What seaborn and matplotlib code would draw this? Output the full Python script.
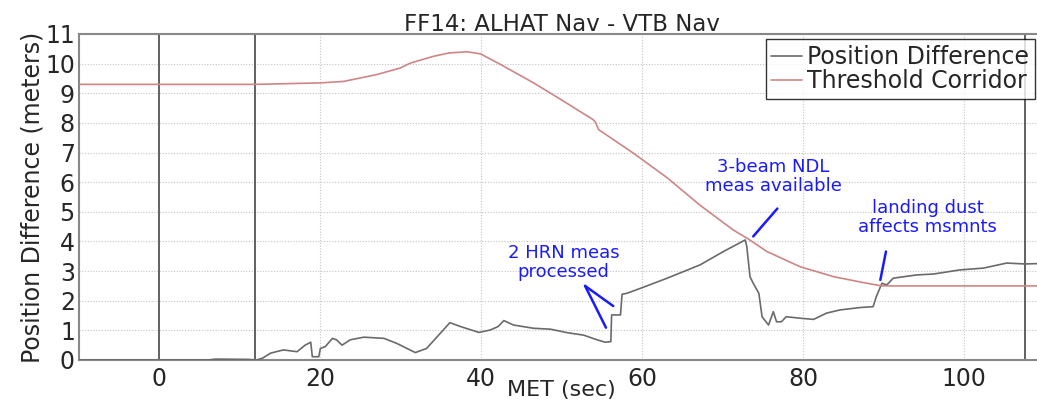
import numpy as np
import pandas as pd
import matplotlib
matplotlib.use("Agg")
import matplotlib.pyplot as plt
import seaborn as sns

# Position difference (MET sec, meters)
pos_t = [-10, 6, 7, 11, 12.1, 12.8, 13.8, 15.4, 17.1, 18.1, 18.8, 19.0, 19.8, 20.0, 20.6,
         21.5, 22.0, 22.7, 23.7, 25.4, 27.9, 29.5, 31.8, 33.2, 34.9, 36.1, 37.4, 39.7,
         41.1, 42.1, 42.8, 44.0, 46.5, 48.6, 50.7, 52.7, 54.4, 55.4, 56.1, 56.2, 57.3,
         57.5, 58.1, 59.8, 63.1, 67.2, 70.1, 72.8, 73.0, 73.4, 73.8, 74.5, 74.9, 75.7,
         76.3, 76.7, 77.3, 77.9, 79.6, 81.3, 82.9, 84.6, 87.1, 88.7, 89.1, 89.8, 90.4,
         91.2, 94.1, 96.2, 99.5, 102.4, 105.3, 107.6, 110]
pos_v = [0.0, 0.0, 0.03, 0.02, 0.0, 0.06, 0.23, 0.34, 0.28, 0.5, 0.6, 0.11, 0.11, 0.39, 0.45,
         0.73, 0.68, 0.5, 0.68, 0.77, 0.73, 0.56, 0.25, 0.39, 0.9, 1.26, 1.13, 0.93,
         1.01, 1.13, 1.33, 1.18, 1.07, 1.04, 0.92, 0.84, 0.68, 0.6, 0.62, 1.52, 1.52,
         2.22, 2.25, 2.42, 2.76, 3.21, 3.66, 4.05, 3.83, 2.81, 2.59, 2.25, 1.46, 1.18,
         1.63, 1.29, 1.29, 1.46, 1.41, 1.37, 1.58, 1.69, 1.77, 1.8, 2.14, 2.59, 2.53,
         2.76, 2.87, 2.9, 3.04, 3.1, 3.27, 3.24, 3.26]

# Threshold corridor
thr_t = [-10, 12, 20, 22.9, 27, 29.9, 31.2, 34.1, 36, 38.2, 39.9, 42.4, 46.5, 50.6,
         53.9, 54.2, 54.6, 58.9, 63.1, 67.2, 71.3, 73.2, 75.5, 79.6, 83.8, 87.9, 89.8, 110]
thr_v = [9.3, 9.3, 9.35, 9.4, 9.63, 9.85, 10.02, 10.25, 10.36, 10.4, 10.33, 9.97, 9.35, 8.67,
         8.11, 8.02, 7.77, 6.98, 6.15, 5.22, 4.39, 4.08, 3.66, 3.15, 2.81, 2.59, 2.5, 2.5]

event_lines = [0, 11.9, 107.6]
x_ticks = [0, 20, 40, 60, 80, 100]
y_ticks = list(range(0, 12))

notes = [
    ("2 HRN meas\nprocessed", 50.2, 3.3, [((52.9, 2.5), (56.4, 1.82)), ((52.9, 2.5), (55.5, 1.09))]),
    ("3-beam NDL\nmeas available", 76.3, 6.2, [((76.8, 5.11), (73.8, 4.17))]),
    ("landing dust\naffects msmnts", 95.5, 4.8, [((90.3, 3.66), (89.6, 2.7))]),
]

sns.set_style("white")
plt.rcParams['font.family'] = ['DejaVu Sans']

fig = plt.figure(figsize=(10.37, 4.07), dpi=100)
ax = fig.add_axes([0.0762, 0.1155, 0.931, 0.801])

df_pos = pd.DataFrame({"t": pos_t, "v": pos_v, "s": "Position Difference"})
df_thr = pd.DataFrame({"t": thr_t, "v": thr_v, "s": "Threshold Corridor"})
df = pd.concat([df_pos, df_thr], ignore_index=True)

sns.lineplot(data=df, x="t", y="v", hue="s", estimator=None, sort=False,
             palette={"Position Difference": "#6a6a6a", "Threshold Corridor": "#cf8585"},
             linewidth=1.2, ax=ax, zorder=3)

for xv in event_lines:
    ax.axvline(xv, color="#555555", linewidth=1.3, zorder=2)

ax.set_xlim(-10, 110)
ax.set_ylim(0, 11)
ax.set_xticks(x_ticks)
ax.set_yticks(y_ticks)
for yv in y_ticks[1:-1]:
    ax.axhline(yv, color="#c4c4c4", linestyle=(0, (1, 1.5)), linewidth=0.8, zorder=1)
for xv in x_ticks[1:]:
    ax.axvline(xv, color="#c4c4c4", linestyle=(0, (1, 1.5)), linewidth=0.8, zorder=1)

ax.tick_params(axis="both", direction="in", length=5, color="#555555", labelsize=17,
               pad=3)
ax.tick_params(axis="x", pad=5)
for sp in ax.spines.values():
    sp.set_color("#888888")
    sp.set_linewidth(1.5)

ax.set_title("FF14: ALHAT Nav - VTB Nav", fontsize=16.5, pad=2)
ax.set_xlabel("MET (sec)", fontsize=16, labelpad=-8)
ax.set_ylabel("Position Difference (meters)", fontsize=17, labelpad=0)

for txt, tx, ty, lines in notes:
    ax.text(tx, ty, txt, color="#1a1aff", fontsize=13, ha="center", va="center",
            linespacing=1.05, zorder=5)
    for (a, b) in lines:
        ax.plot([a[0], b[0]], [a[1], b[1]], color="#1a1aff", linewidth=1.8, zorder=5)

leg = ax.legend(loc="upper right", bbox_to_anchor=(0.990, 0.985), fontsize=17,
                frameon=True, fancybox=False, handlelength=1.3, handletextpad=0.2,
                borderpad=0.25, labelspacing=0.0, borderaxespad=0.0)
leg.get_frame().set_edgecolor("black")
leg.get_frame().set_linewidth(1.0)
leg.set_title(None)

fig.savefig("out.png", dpi=100)
